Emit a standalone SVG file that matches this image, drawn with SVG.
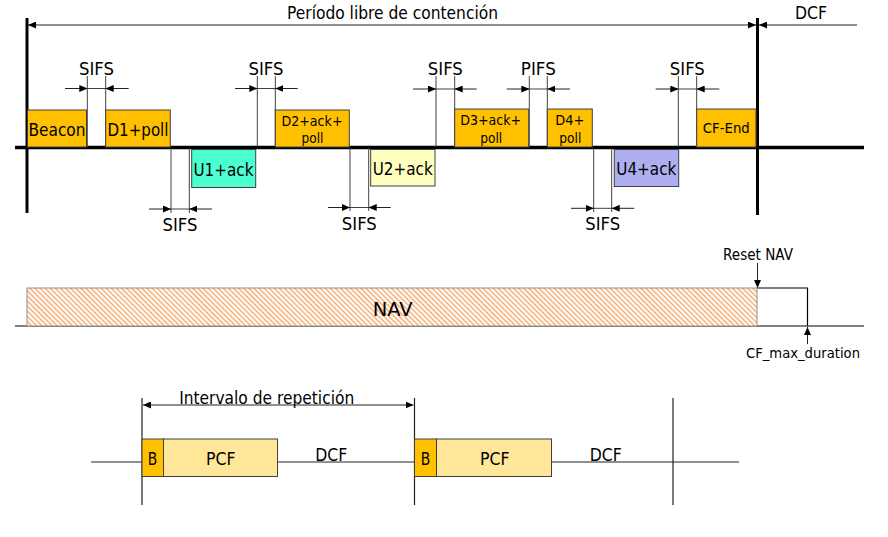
<svg xmlns="http://www.w3.org/2000/svg" width="888" height="537" viewBox="0 0 888 537">
<style>
text{font-family:"DejaVu Sans","Liberation Sans",sans-serif;fill:#000;}
.lbl{font-size:17px;}
.sm{font-size:14px;}
.box{stroke:#404040;stroke-width:1;}
.or{fill:#FFC000;}
.pcf{fill:#FFE699;}
.thin{stroke:#404040;stroke-width:1;fill:none;}
.thick{stroke:#000;stroke-width:3;fill:none;}
.ar{stroke:#222;stroke-width:1;fill:none;marker-end:url(#ah);}
</style>
<defs>
<marker id="ah" viewBox="0 0 8 7" refX="8" refY="3.5" markerWidth="8" markerHeight="7" markerUnits="userSpaceOnUse" orient="auto">
<path d="M0,0 L8,3.5 L0,7 z" fill="#000"/>
</marker>
<pattern id="hatch" patternUnits="userSpaceOnUse" width="3.6" height="3.6" patternTransform="rotate(-45)">
<rect width="3.6" height="3.6" fill="#fff"/>
<line x1="0.9" y1="0" x2="0.9" y2="3.6" stroke="#F6B27C" stroke-width="1.6"/>
</pattern>
</defs>
<rect width="888" height="537" fill="#fff"/>

<!-- connectors / timing lines -->
<g id="connectors">
<!-- top period arrows -->
<line x1="392" y1="25" x2="28" y2="25" class="ar"/>
<line x1="392" y1="25" x2="756" y2="25" class="ar"/>
<line x1="857" y1="25" x2="759" y2="25" class="ar"/>
<!-- thick verticals and timeline -->
<line x1="27" y1="18" x2="27" y2="213" class="thick"/>
<line x1="757.5" y1="18" x2="757.5" y2="215" class="thick"/>
<line x1="15" y1="147.5" x2="864" y2="147.5" stroke="#000" stroke-width="3.5"/>

<!-- top SIFS/PIFS markers -->
<path class="thin" d="M87.3,76V147M105.7,76V147M87.3,88.5H105.7"/>
<line x1="65" y1="88.5" x2="87.3" y2="88.5" class="ar"/>
<line x1="128.7" y1="88.5" x2="105.7" y2="88.5" class="ar"/>

<path class="thin" d="M257.3,76V147M275.3,76V147M257.3,88.5H275.3"/>
<line x1="235" y1="88.5" x2="257.3" y2="88.5" class="ar"/>
<line x1="297.7" y1="88.5" x2="275.3" y2="88.5" class="ar"/>

<path class="thin" d="M436,76V147M454.7,76V147M436,89H454.7"/>
<line x1="413" y1="89" x2="436" y2="89" class="ar"/>
<line x1="476.7" y1="89" x2="454.7" y2="89" class="ar"/>

<path class="thin" d="M529.3,76V147M547.3,76V147M529.3,89H547.3"/>
<line x1="506.7" y1="89" x2="529.3" y2="89" class="ar"/>
<line x1="570" y1="89" x2="547.3" y2="89" class="ar"/>

<path class="thin" d="M678.3,76V147M696.7,76V147M678.3,89H696.7"/>
<line x1="655.7" y1="89" x2="678.3" y2="89" class="ar"/>
<line x1="719.3" y1="89" x2="696.7" y2="89" class="ar"/>

<!-- bottom SIFS markers -->
<path class="thin" d="M171,148V213M189.3,148V213M171,209H189.3"/>
<line x1="149" y1="209" x2="171" y2="209" class="ar"/>
<line x1="212" y1="209" x2="189.3" y2="209" class="ar"/>

<path class="thin" d="M350,148V211M368.7,148V211M350,207.5H368.7"/>
<line x1="328" y1="207.5" x2="350" y2="207.5" class="ar"/>
<line x1="390.7" y1="207.5" x2="368.7" y2="207.5" class="ar"/>

<path class="thin" d="M593.7,148V212M611.7,148V212M593.7,208.3H611.7"/>
<line x1="571" y1="208.3" x2="593.7" y2="208.3" class="ar"/>
<line x1="634.3" y1="208.3" x2="611.7" y2="208.3" class="ar"/>

<!-- NAV section -->
<line x1="15" y1="326" x2="864" y2="326" stroke="#000" stroke-width="1.2"/>
<path d="M757,288H807.5V326" stroke="#000" stroke-width="1.2" fill="none"/>
<line x1="757.5" y1="263" x2="757.5" y2="288" class="ar"/>
<line x1="807.5" y1="344" x2="807.5" y2="327" class="ar"/>

<!-- repetition section -->
<line x1="91" y1="462" x2="739" y2="462" stroke="#222" stroke-width="1.2"/>
<line x1="142" y1="398" x2="142" y2="505" stroke="#222" stroke-width="1.2"/>
<line x1="414.5" y1="398" x2="414.5" y2="505" stroke="#222" stroke-width="1.2"/>
<line x1="673" y1="398" x2="673" y2="505" stroke="#222" stroke-width="1.2"/>
<line x1="278" y1="405" x2="143" y2="405" class="ar"/>
<line x1="278" y1="405" x2="413.5" y2="405" class="ar"/>
</g>

<!-- labels of timing -->
<g id="timing-labels">
<text class="lbl" x="392.5" y="19" text-anchor="middle" textLength="211" lengthAdjust="spacingAndGlyphs">Período libre de contención</text>
<text class="lbl" x="811" y="19" text-anchor="middle" textLength="32" lengthAdjust="spacingAndGlyphs">DCF</text>
<text class="lbl" x="96.5" y="75" text-anchor="middle" textLength="35" lengthAdjust="spacingAndGlyphs">SIFS</text>
<text class="lbl" x="266" y="75" text-anchor="middle" textLength="35" lengthAdjust="spacingAndGlyphs">SIFS</text>
<text class="lbl" x="445.3" y="75" text-anchor="middle" textLength="35" lengthAdjust="spacingAndGlyphs">SIFS</text>
<text class="lbl" x="538.3" y="75" text-anchor="middle" textLength="35" lengthAdjust="spacingAndGlyphs">PIFS</text>
<text class="lbl" x="687.3" y="75" text-anchor="middle" textLength="35" lengthAdjust="spacingAndGlyphs">SIFS</text>
<text class="lbl" x="180" y="231" text-anchor="middle" textLength="35" lengthAdjust="spacingAndGlyphs">SIFS</text>
<text class="lbl" x="359.3" y="230" text-anchor="middle" textLength="35" lengthAdjust="spacingAndGlyphs">SIFS</text>
<text class="lbl" x="602.7" y="230" text-anchor="middle" textLength="35" lengthAdjust="spacingAndGlyphs">SIFS</text>
</g>

<!-- frame nodes -->
<g id="beacon">
<rect class="box or" x="27.5" y="110" width="59" height="37"/>
<text class="lbl" x="57" y="135.7" text-anchor="middle" textLength="57" lengthAdjust="spacingAndGlyphs">Beacon</text>
</g>
<g id="d1-poll">
<rect class="box or" x="105.7" y="110" width="64.6" height="37"/>
<text class="lbl" x="138" y="135.7" text-anchor="middle" textLength="61" lengthAdjust="spacingAndGlyphs">D1+poll</text>
</g>
<g id="u1-ack">
<rect class="box" fill="#4BFFD0" x="191.7" y="149.5" width="64" height="38"/>
<text class="lbl" x="223.5" y="176" text-anchor="middle" textLength="60" lengthAdjust="spacingAndGlyphs">U1+ack</text>
</g>
<g id="d2-ack-poll">
<rect class="box or" x="275.3" y="110" width="74" height="37"/>
<text class="sm" x="312" y="126" text-anchor="middle" textLength="61" lengthAdjust="spacingAndGlyphs">D2+ack+</text>
<text class="sm" x="312.5" y="143" text-anchor="middle" textLength="22" lengthAdjust="spacingAndGlyphs">poll</text>
</g>
<g id="u2-ack">
<rect class="box" fill="#FFFFC0" x="370.7" y="149.5" width="64.3" height="36.5"/>
<text class="lbl" x="402.7" y="175" text-anchor="middle" textLength="60" lengthAdjust="spacingAndGlyphs">U2+ack</text>
</g>
<g id="d3-ack-poll">
<rect class="box or" x="454.7" y="109" width="74" height="38"/>
<text class="sm" x="490.7" y="125" text-anchor="middle" textLength="61" lengthAdjust="spacingAndGlyphs">D3+ack+</text>
<text class="sm" x="491.2" y="143" text-anchor="middle" textLength="22" lengthAdjust="spacingAndGlyphs">poll</text>
</g>
<g id="d4-poll">
<rect class="box or" x="547.3" y="109" width="45" height="38"/>
<text class="sm" x="569.8" y="125" text-anchor="middle" textLength="29" lengthAdjust="spacingAndGlyphs">D4+</text>
<text class="sm" x="570.3" y="143" text-anchor="middle" textLength="22" lengthAdjust="spacingAndGlyphs">poll</text>
</g>
<g id="u4-ack">
<rect class="box" fill="#AEAEF0" x="614.3" y="149.5" width="64.4" height="37"/>
<text class="lbl" x="646.3" y="175" text-anchor="middle" textLength="60" lengthAdjust="spacingAndGlyphs">U4+ack</text>
</g>
<g id="cf-end">
<rect class="box or" x="696.7" y="109" width="59.3" height="38"/>
<text class="sm" x="726.3" y="133.3" text-anchor="middle" textLength="47" lengthAdjust="spacingAndGlyphs">CF-End</text>
</g>

<!-- NAV -->
<g id="nav">
<rect x="27" y="288" width="730" height="38" fill="url(#hatch)" stroke="#909090" stroke-width="1"/>
<text x="392.7" y="316" font-size="20" text-anchor="middle" textLength="40" lengthAdjust="spacingAndGlyphs">NAV</text>
</g>
<g id="reset-nav">
<text x="758" y="260" font-size="15" text-anchor="middle" textLength="70" lengthAdjust="spacingAndGlyphs">Reset NAV</text>
</g>
<g id="cf-max-duration">
<text x="803" y="358" font-size="14.5" text-anchor="middle" textLength="114" lengthAdjust="spacingAndGlyphs">CF_max_duration</text>
</g>

<!-- repetition interval -->
<g id="interval-label">
<text x="266.7" y="403.5" font-size="17.5" text-anchor="middle" textLength="175" lengthAdjust="spacingAndGlyphs">Intervalo de repetición</text>
</g>
<g id="b1">
<rect class="box or" x="142" y="439" width="21.5" height="37.5"/>
<text x="152.5" y="464.5" font-size="17.5" text-anchor="middle" textLength="9.5" lengthAdjust="spacingAndGlyphs">B</text>
</g>
<g id="pcf1">
<rect class="box pcf" x="163.5" y="439" width="114" height="37.5"/>
<text x="220.7" y="464.5" font-size="17.5" text-anchor="middle" textLength="29.5" lengthAdjust="spacingAndGlyphs">PCF</text>
</g>
<g id="dcf1">
<text x="331.2" y="460.5" font-size="17.5" text-anchor="middle" textLength="32" lengthAdjust="spacingAndGlyphs">DCF</text>
</g>
<g id="b2">
<rect class="box or" x="414.5" y="439" width="22" height="37.5"/>
<text x="425.5" y="464.5" font-size="17.5" text-anchor="middle" textLength="9.5" lengthAdjust="spacingAndGlyphs">B</text>
</g>
<g id="pcf2">
<rect class="box pcf" x="436.5" y="439" width="115" height="37.5"/>
<text x="494.8" y="464.5" font-size="17.5" text-anchor="middle" textLength="29.5" lengthAdjust="spacingAndGlyphs">PCF</text>
</g>
<g id="dcf2">
<text x="605.7" y="460.5" font-size="17.5" text-anchor="middle" textLength="32" lengthAdjust="spacingAndGlyphs">DCF</text>
</g>
</svg>
